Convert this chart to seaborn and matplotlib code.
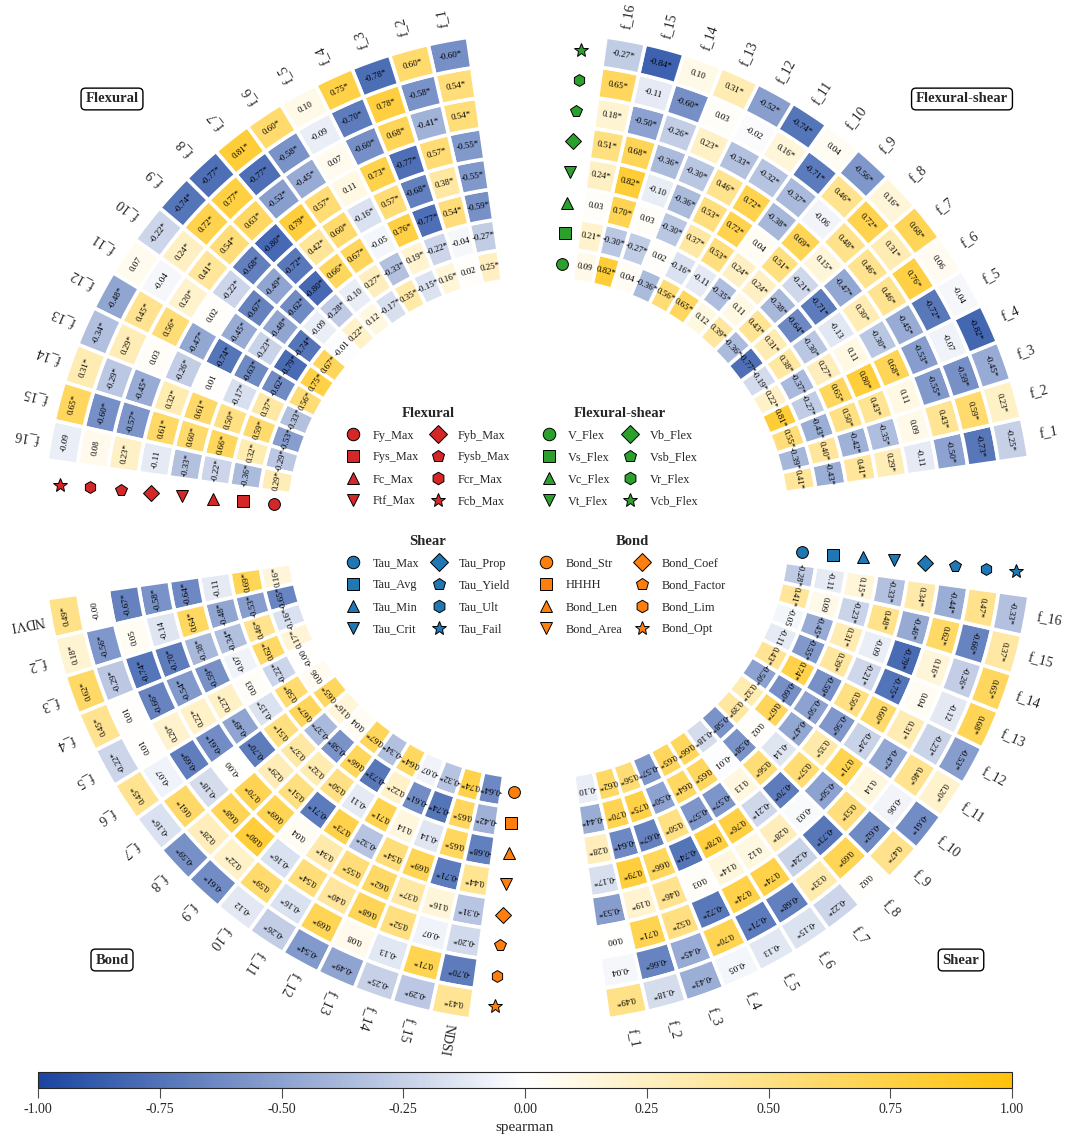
import numpy as np
import matplotlib
matplotlib.use("Agg")
import matplotlib.pyplot as plt
from matplotlib.lines import Line2D
from matplotlib.ticker import FormatStrFormatter
import seaborn as sns

sns.set_theme(style="white")
plt.rcParams["font.family"] = ["Liberation Serif", "DejaVu Serif"]

# features in angular order inside each quadrant
feat_f = ["f_%d" % i for i in range(1, 17)]
feat_bond = ["NDVI"] + ["f_%d" % i for i in range(2, 16)] + ["NDSI"]

# targets, inner ring -> outer ring
flex_targets = ["Fy_Max", "Fys_Max", "Fc_Max", "Ftf_Max", "Fyb_Max", "Fysb_Max", "Fcr_Max", "Fcb_Max"]
fs_targets = ["V_Flex", "Vs_Flex", "Vc_Flex", "Vt_Flex", "Vb_Flex", "Vsb_Flex", "Vr_Flex", "Vcb_Flex"]
shear_targets = ["Tau_Max", "Tau_Avg", "Tau_Min", "Tau_Crit", "Tau_Prop", "Tau_Yield", "Tau_Ult", "Tau_Fail"]
bond_targets = ["Bond_Str", "HHHH", "Bond_Len", "Bond_Area", "Bond_Coef", "Bond_Factor", "Bond_Lim", "Bond_Opt"]
markers = ["o", "s", "^", "v", "D", "p", "h", "*"]

# spearman values (feature 1..16), "*" = significant
flexural = [
    ["0.25*", "0.02", "0.16*", "-0.15*", "0.35*", "-0.17*", "0.12", "0.22*", "-0.01", "0.67*", "0.75*", "0.56*", "-0.33*", "-0.53*", "-0.29*", "0.29*"],
    ["-0.27*", "-0.04", "-0.22*", "0.19*", "-0.33*", "0.27*", "-0.10", "-0.28*", "-0.09", "-0.74*", "-0.79*", "-0.62*", "0.37*", "0.59*", "0.32*", "-0.36*"],
    ["-0.59*", "0.54*", "-0.77*", "0.76*", "-0.05", "0.67*", "0.66*", "-0.80*", "-0.62*", "-0.48*", "-0.23*", "-0.63*", "-0.17*", "0.50*", "0.66*", "-0.22*"],
    ["-0.55*", "0.38*", "-0.68*", "0.57*", "-0.16*", "0.60*", "0.42*", "-0.72*", "-0.49*", "-0.67*", "-0.45*", "-0.74*", "0.01", "0.61*", "0.60*", "-0.33*"],
    ["-0.55*", "0.57*", "-0.77*", "0.73*", "0.11", "0.57*", "0.79*", "-0.80*", "-0.68*", "-0.22*", "0.02", "-0.47*", "-0.26*", "0.32*", "0.61*", "-0.11"],
    ["0.54*", "-0.41*", "0.68*", "-0.60*", "0.07", "-0.45*", "-0.52*", "0.63*", "0.54*", "0.41*", "0.20*", "0.56*", "0.03", "-0.45*", "-0.57*", "0.23*"],
    ["0.54*", "-0.58*", "0.78*", "-0.70*", "-0.09", "-0.58*", "-0.77*", "0.77*", "0.72*", "0.24*", "-0.04", "0.45*", "0.29*", "-0.29*", "-0.60*", "0.08"],
    ["-0.60*", "0.60*", "-0.78*", "0.75*", "0.10", "0.60*", "0.81*", "-0.77*", "-0.74*", "-0.22*", "0.07", "-0.48*", "-0.34*", "0.31*", "0.65*", "-0.09"],
]
flex_shear = [
    ["0.41*", "-0.39*", "0.55*", "0.81*", "0.22*", "-0.19*", "-0.77*", "-0.36*", "0.39*", "0.12", "0.65*", "0.56*", "-0.36*", "0.04", "0.82*", "0.09"],
    ["-0.43*", "0.40*", "-0.43*", "-0.27*", "-0.37*", "0.38*", "0.31*", "0.43*", "0.11", "-0.35*", "-0.11", "-0.16*", "0.02", "-0.27*", "-0.30*", "0.21*"],
    ["0.41*", "-0.42*", "0.50*", "0.65*", "0.27*", "-0.30*", "-0.64*", "-0.38*", "0.24*", "0.24*", "0.53*", "0.37*", "-0.30*", "0.03", "0.70*", "0.03"],
    ["0.29*", "-0.35*", "0.43*", "0.80*", "0.11", "-0.13", "-0.71*", "-0.21*", "0.51*", "0.04", "0.72*", "0.53*", "-0.36*", "-0.10", "0.82*", "0.24*"],
    ["-0.11", "0.09", "0.11", "0.68*", "-0.30*", "0.30*", "-0.47*", "0.15*", "0.69*", "-0.38*", "0.72*", "0.46*", "-0.30*", "-0.36*", "0.68*", "0.51*"],
    ["-0.50*", "0.43*", "-0.55*", "-0.53*", "-0.45*", "0.46*", "0.46*", "0.48*", "-0.06", "-0.37*", "-0.32*", "-0.33*", "0.23*", "-0.26*", "-0.50*", "0.18*"],
    ["-0.73*", "0.59*", "-0.59*", "-0.07", "-0.72*", "0.76*", "0.31*", "0.72*", "0.46*", "-0.71*", "0.16*", "-0.02", "0.03", "-0.60*", "-0.11", "0.65*"],
    ["-0.25*", "0.23*", "-0.45*", "-0.82*", "-0.04", "0.06", "0.68*", "0.16*", "-0.56*", "0.04", "-0.74*", "-0.52*", "0.31*", "0.10", "-0.84*", "-0.27*"],
]
bond = [
    ["0.16*", "-0.65*", "-0.16*", "0.17*", "-0.00", "0.06", "0.65*", "0.16*", "0.04", "0.67*", "-0.34*", "0.64*", "-0.07", "-0.32*", "0.74*", "-0.64*"],
    ["0.69*", "-0.53*", "0.46*", "0.62*", "-0.22*", "0.58*", "0.67*", "-0.37*", "-0.58*", "0.66*", "-0.73*", "0.22*", "-0.61*", "-0.74*", "0.65*", "-0.42*"],
    ["-0.11", "-0.48*", "-0.34*", "-0.07", "0.03", "-0.15*", "0.51*", "0.37*", "0.32*", "0.50*", "-0.11", "0.71*", "0.14", "-0.14", "0.65*", "-0.68*"],
    ["-0.64*", "0.64*", "-0.38*", "-0.59*", "0.23*", "-0.49*", "-0.70*", "0.29*", "0.51*", "-0.71*", "0.73*", "-0.32*", "0.54*", "0.69*", "-0.71*", "0.44*"],
    ["-0.58*", "-0.14", "-0.70*", "-0.54*", "0.22*", "-0.61*", "-0.00", "0.70*", "0.69*", "0.04", "0.34*", "0.55*", "0.62*", "0.37*", "0.16*", "-0.31*"],
    ["-0.67*", "0.05", "-0.74*", "-0.66*", "0.20*", "-0.69*", "-0.18*", "0.68*", "0.80*", "-0.16*", "0.54*", "0.40*", "0.68*", "0.52*", "-0.07", "-0.20*"],
    ["-0.00", "-0.56*", "-0.29*", "0.01", "0.01", "-0.07", "0.61*", "0.28*", "0.22*", "0.59*", "-0.16*", "0.69*", "0.08", "-0.13", "0.71*", "-0.70*"],
    ["0.49*", "0.18*", "0.62*", "0.45*", "-0.22*", "0.45*", "-0.16*", "-0.59*", "-0.61*", "-0.12", "-0.26*", "-0.54*", "-0.49*", "-0.25*", "-0.29*", "0.43*"],
]
shear = [
    ["-0.10", "0.62*", "0.56*", "-0.57*", "0.65*", "0.66*", "-0.18*", "-0.58*", "0.39*", "0.32*", "-0.50*", "0.43*", "-0.11", "-0.05", "0.41*", "-0.28*"],
    ["-0.44*", "0.70*", "0.75*", "-0.50*", "0.64*", "0.65*", "-0.01", "-0.58*", "0.02", "0.67*", "-0.60*", "0.74*", "-0.55*", "-0.45*", "0.09", "-0.11"],
    ["0.28*", "-0.64*", "-0.67*", "0.50*", "-0.57*", "-0.57*", "0.13", "0.56*", "-0.14", "-0.47*", "-0.50*", "-0.59*", "0.39*", "0.31*", "-0.23*", "0.15*"],
    ["-0.17*", "0.79*", "0.66*", "-0.74*", "0.78*", "0.76*", "-0.21*", "-0.70*", "0.57*", "0.35*", "-0.56*", "0.50*", "-0.21*", "-0.09", "0.48*", "-0.33*"],
    ["-0.53*", "0.19*", "0.46*", "0.03", "0.14*", "0.12", "0.28*", "-0.03", "-0.50*", "0.71*", "-0.24*", "0.60*", "-0.75*", "-0.79*", "-0.46*", "0.34*"],
    ["0.00", "0.71*", "0.52*", "-0.72*", "0.74*", "0.74*", "-0.24*", "-0.73*", "0.53*", "0.14", "-0.47*", "0.31*", "0.04", "0.16*", "0.62*", "-0.44*"],
    ["-0.04", "-0.66*", "-0.45*", "0.70*", "-0.71*", "-0.68*", "0.33*", "0.69*", "-0.62*", "-0.06", "0.46*", "-0.23*", "-0.12", "-0.26*", "-0.66*", "0.47*"],
    ["0.49*", "-0.18*", "-0.43*", "-0.05", "-0.13", "-0.15*", "-0.22*", "0.02", "0.47*", "-0.61*", "0.20*", "-0.53*", "0.68*", "0.65*", "0.37*", "-0.33*"],
]

# (quadrant start angle, name, features, targets, table, marker colour, title position)
quadrants = [
    (0, "Flexural-shear", feat_f, fs_targets, flex_shear, "#2ca02c", (962, 99)),
    (90, "Flexural", feat_f, flex_targets, flexural, "#d62728", (112, 99)),
    (180, "Bond", feat_bond, bond_targets, bond, "#ff7f0e", (112, 960)),
    (270, "Shear", feat_f, shear_targets, shear, "#1f77b4", (961, 960)),
]

cmap = sns.blend_palette(["#1a45a0", "#ffffff", "#ffc20a"], as_cmap=True)
norm = plt.Normalize(-1, 1)

W, H = 1080, 1141
cx, cy, R = 538, 528, 507          # polar centre and axes radius in pixels
r_max = 16.5
base = 8.13                         # inner hole in ring units
step = 4.62                          # degrees per feature
first = 10.5                         # offset of feature 1 inside a quadrant

fig = plt.figure(figsize=(W / 100, H / 100), dpi=100)
ax = fig.add_axes([(cx - R) / W, (H - cy - R) / H, 2 * R / W, 2 * R / H], projection="polar")
ax.set_ylim(0, r_max)
ax.axis("off")

for start, name, feats, targets, table, col, tpos in quadrants:
    thetas = start + first + step * np.arange(16)
    for k, row in enumerate(table):
        vals = np.array([float(s.rstrip("*")) for s in row])
        ax.bar(np.deg2rad(thetas), 1.0, width=np.deg2rad(step), bottom=base + k,
               color=cmap(norm(vals)), edgecolor="white", linewidth=2.6, align="center")
        for th, s in zip(thetas, row):
            ax.text(np.deg2rad(th), base + k + 0.5, s, rotation=th - 90, rotation_mode="anchor",
                    ha="center", va="center", fontsize=6.5, color="black")
        ax.plot(np.deg2rad(start + first + step * 16 + 0.4), base + k + 0.5, marker=markers[k],
                ms=8.5 if markers[k] != "*" else 10, mfc=col, mec="black", mew=0.7, ls="none")
    for th, lab in zip(thetas, feats):
        ax.text(np.deg2rad(th), 16.9, lab, rotation=th, rotation_mode="anchor",
                ha="center", va="center", fontsize=10)
    fig.text(tpos[0] / W, 1 - tpos[1] / H, name, ha="center", va="center", fontsize=10.5,
             fontweight="bold",
             bbox=dict(boxstyle="round,pad=0.3", fc="white", ec="black", lw=1))

# legends in the middle
legend_pos = {"Flexural": (428, 402), "Flexural-shear": (620, 402), "Shear": (428, 530), "Bond": (632, 530)}
for start, name, feats, targets, table, col, tpos in quadrants:
    handles = [Line2D([], [], ls="none", marker=m, ms=9 if m != "*" else 10.5, mfc=col,
                      mec="black", mew=0.7) for m in markers]
    x, y = legend_pos[name]
    fig.legend(handles, targets, loc="upper center", bbox_to_anchor=(x / W, 1 - y / H),
               ncol=2, frameon=False, fontsize=8.8, title=name,
               title_fontproperties={"weight": "bold", "size": 10.5},
               handlelength=1.2, handletextpad=1.0, columnspacing=1.0, labelspacing=0.8,
               borderaxespad=0)

# colour bar
cax = fig.add_axes([38 / W, 1 - 1088 / H, 974 / W, 16 / H])
sm = plt.cm.ScalarMappable(norm=norm, cmap=cmap)
cb = fig.colorbar(sm, cax=cax, orientation="horizontal")
cb.set_ticks(np.arange(-1, 1.01, 0.25))
cb.ax.xaxis.set_major_formatter(FormatStrFormatter("%.2f"))
cb.ax.tick_params(labelsize=10, length=7, width=0.8, color="0.3")
cb.outline.set_linewidth(0.8)
cb.set_label("spearman", fontsize=11)

fig.savefig("out.png", dpi=100)
